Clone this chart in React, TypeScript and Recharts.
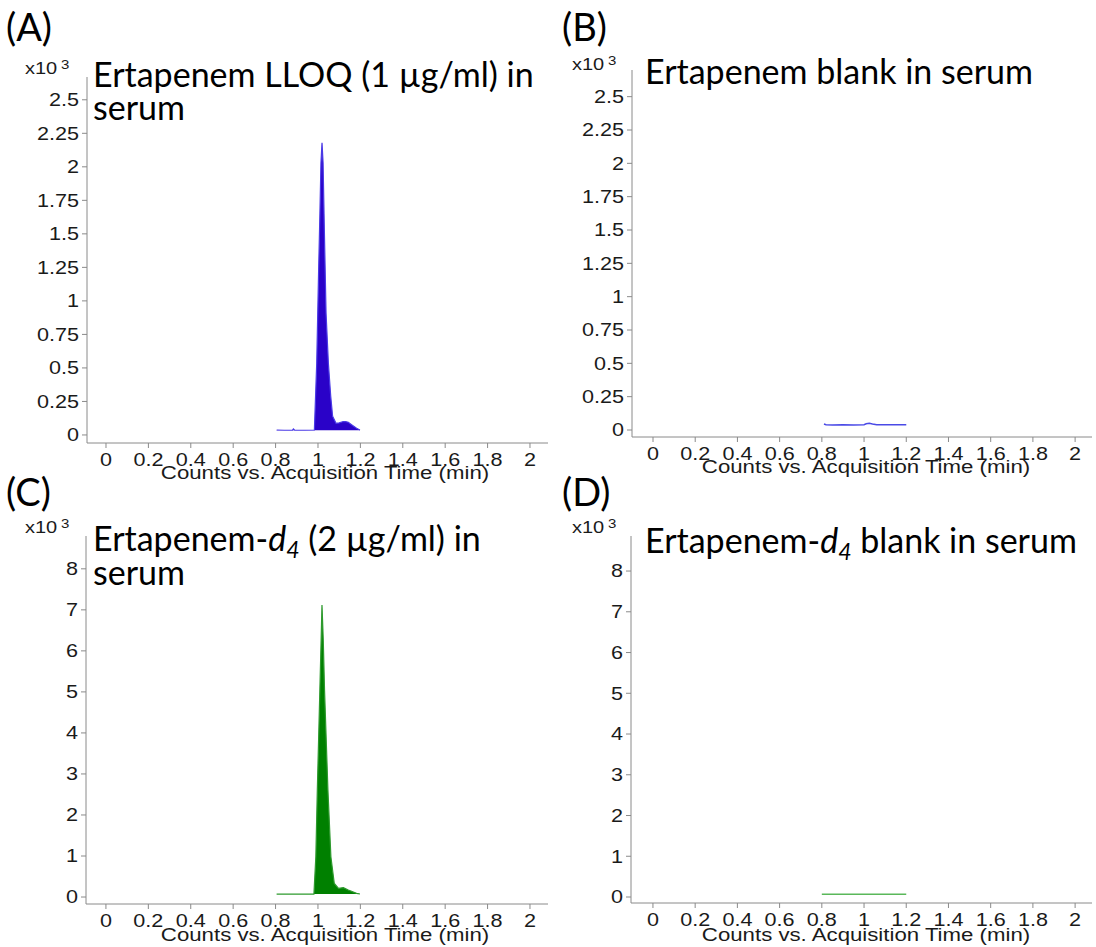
import React from 'react';
import { ComposedChart, Area, Line, XAxis, YAxis } from 'recharts';

// ---------- data (counts in units of x10^3, time in min) ----------
const timeA = [0.805, 0.84, 0.88, 0.884, 0.89, 0.94, 0.983, 0.994, 1.003, 1.009, 1.014, 1.019, 1.024, 1.03, 1.038, 1.049, 1.06, 1.069, 1.085, 1.1, 1.119, 1.13, 1.143, 1.16, 1.182, 1.198];
const countsA = [0.037, 0.035, 0.036, 0.045, 0.036, 0.035, 0.037, 0.535, 1.23, 1.65, 2.03, 2.18, 2.03, 1.53, 0.91, 0.535, 0.29, 0.14, 0.087, 0.09, 0.1, 0.1, 0.095, 0.075, 0.05, 0.037];

const timeB = [0.81, 0.82, 0.85, 0.9, 0.95, 1.0, 1.01, 1.025, 1.04, 1.06, 1.1, 1.15, 1.2];
const countsB = [0.045, 0.04, 0.038, 0.039, 0.038, 0.04, 0.047, 0.05, 0.045, 0.04, 0.039, 0.039, 0.039];

const timeC = [0.805, 0.85, 0.9, 0.95, 0.981, 0.99, 0.997, 1.009, 1.015, 1.019, 1.025, 1.031, 1.047, 1.061, 1.077, 1.097, 1.12, 1.143, 1.182, 1.198];
const countsC = [0.073, 0.073, 0.073, 0.073, 0.073, 0.98, 2.61, 5.05, 6.27, 7.12, 6.27, 5.05, 2.61, 0.98, 0.33, 0.21, 0.23, 0.17, 0.09, 0.073];

const timeD = [0.8, 0.9, 1.0, 1.1, 1.2];
const countsD = [0.07, 0.07, 0.07, 0.07, 0.07];

const xTicks = [0, 0.2, 0.4, 0.6, 0.8, 1, 1.2, 1.4, 1.6, 1.8, 2];
const yTicksTop = [0, 0.25, 0.5, 0.75, 1, 1.25, 1.5, 1.75, 2, 2.25, 2.5];
const yTicksBottom = [0, 1, 2, 3, 4, 5, 6, 7, 8];

const xTitle = 'Counts vs. Acquisition Time (min)';

const zip = (t: number[], v: number[]) => t.map((x, i) => ({ t: x, v: v[i] }));

const ARIAL = '"Liberation Sans", Arial, sans-serif';
const TITLE_FONT = 'Lato, "Open Sans", sans-serif';
const STRETCH = 1.2;

function StretchTick(props: any) {
  const { x, y, payload, axis } = props;
  const isX = axis === 'x';
  return (
    <g transform={`translate(${x},${y}) scale(${STRETCH},1)`}>
      <text
        x={0}
        y={0}
        dy={isX ? '0.71em' : '0.355em'}
        textAnchor={isX ? 'middle' : 'end'}
        fontFamily={ARIAL}
        fontSize={18}
        fill="#1a1a1a"
      >
        {String(payload.value)}
      </text>
    </g>
  );
}

type PanelProps = {
  box: [number, number, number, number];
  plot: [number, number, number, number];
  xDomain: [number, number];
  yDomain: [number, number];
  yTicks: number[];
  data: { t: number; v: number }[];
  kind: 'area' | 'line';
  stroke: string;
  fill?: string;
  base?: number;
  strokeWidth?: number;
};

const Y_W = 60;
const X_H = 40;

function Panel(p: PanelProps) {
  const [bx, by, bw, bh] = p.box;
  const [pl, pt, pr, pb] = p.plot;
  const margin = {
    left: pl - bx - Y_W,
    top: pt - by,
    right: bx + bw - pr,
    bottom: by + bh - pb - X_H,
  };
  return (
    <div style={{ position: 'absolute', left: bx, top: by, width: bw, height: bh }}>
      <ComposedChart width={bw} height={bh} data={p.data} margin={margin}>
        <XAxis
          dataKey="t"
          type="number"
          domain={p.xDomain}
          allowDataOverflow
          ticks={xTicks}
          interval={0}
          height={X_H}
          tickSize={5}
          tickMargin={5}
          stroke="#8a8a8a"
          tick={(tp: any) => <StretchTick {...tp} axis="x" />}
        />
        <YAxis
          type="number"
          domain={p.yDomain}
          allowDataOverflow
          ticks={p.yTicks}
          interval={0}
          width={Y_W}
          tickSize={5}
          tickMargin={3}
          stroke="#8a8a8a"
          tick={(tp: any) => <StretchTick {...tp} axis="y" />}
        />
        {p.kind === 'area' ? (
          <Area
            dataKey="v"
            type="linear"
            baseValue={p.base}
            stroke={p.stroke}
            strokeWidth={p.strokeWidth ?? 1.2}
            fill={p.fill}
            fillOpacity={1}
            dot={false}
            activeDot={false}
            isAnimationActive={false}
          />
        ) : (
          <Line
            dataKey="v"
            type="linear"
            stroke={p.stroke}
            strokeWidth={p.strokeWidth ?? 1.5}
            dot={false}
            activeDot={false}
            isAnimationActive={false}
          />
        )}
      </ComposedChart>
    </div>
  );
}

function Tag({ x, y, tag }: { x: number; y: number; tag: string }) {
  return (
    <text x={x} y={y} fontFamily={TITLE_FONT} fontSize={38} fill="#000">
      {tag}
    </text>
  );
}

function Mult({ x, y }: { x: number; y: number }) {
  return (
    <g transform={`translate(${x},${y}) scale(1.25,1)`}>
      <text x={0} y={0} fontFamily={ARIAL} fontSize={16} fill="#1a1a1a">
        x10
        <tspan dx={3} dy={-5} fontSize={12}>3</tspan>
      </text>
    </g>
  );
}

function AxisTitle({ cx, y }: { cx: number; y: number }) {
  return (
    <g transform={`translate(${cx},${y}) scale(1.17,1)`}>
      <text x={0} y={0} textAnchor="middle" fontFamily={ARIAL} fontSize={19} fill="#1a1a1a">
        {xTitle}
      </text>
    </g>
  );
}

export default function App() {
  return (
    <div style={{ position: 'absolute', left: 0, top: 0, width: 1096, height: 947, background: '#fff', overflow: 'hidden' }}>
      <Panel
        box={[0, 0, 560, 490]}
        plot={[87, 77, 548, 443]}
        xDomain={[-0.0896, 2.085]}
        yDomain={[-0.06, 2.67]}
        yTicks={yTicksTop}
        data={zip(timeA, countsA)}
        kind="area"
        base={0.036}
        stroke="#4a3ae6"
        fill="#2a02c8"
      />
      <Panel
        box={[560, 0, 536, 490]}
        plot={[632, 70, 1092, 437]}
        xDomain={[-0.0995, 2.08]}
        yDomain={[-0.0525, 2.7]}
        yTicks={yTicksTop}
        data={zip(timeB, countsB)}
        kind="line"
        stroke="#4a4ae6"
      />
      <Panel
        box={[0, 490, 560, 457]}
        plot={[86, 536, 548, 904]}
        xDomain={[-0.094, 2.085]}
        yDomain={[-0.17, 8.8]}
        yTicks={yTicksBottom}
        data={zip(timeC, countsC)}
        kind="area"
        base={0.073}
        stroke="#2e9a2e"
        fill="#008000"
      />
      <Panel
        box={[560, 490, 536, 457]}
        plot={[631, 536, 1092, 903]}
        xDomain={[-0.104, 2.08]}
        yDomain={[-0.147, 8.86]}
        yTicks={yTicksBottom}
        data={zip(timeD, countsD)}
        kind="line"
        stroke="#5ab85a"
      />
      <svg
        width={1096}
        height={947}
        style={{ position: 'absolute', left: 0, top: 0, pointerEvents: 'none' }}
      >
        <Tag x={6} y={41} tag="(A)" />
        <Tag x={562} y={41} tag="(B)" />
        <Tag x={6} y={506} tag="(C)" />
        <Tag x={562} y={506} tag="(D)" />

        <Mult x={25} y={74} />
        <Mult x={572} y={70} />
        <Mult x={25} y={533} />
        <Mult x={572} y={533} />

        <text fontFamily={TITLE_FONT} fontSize={34} fill="#000">
          <tspan x={93} y={87}>Ertapenem LLOQ (1 µg/ml) in</tspan>
          <tspan x={93} y={120}>serum</tspan>
        </text>
        <text x={645} y={84} fontFamily={TITLE_FONT} fontSize={34} fill="#000">
          Ertapenem blank in serum
        </text>
        <text fontFamily={TITLE_FONT} fontSize={34} fill="#000">
          <tspan x={93} y={551}>Ertapenem-</tspan>
          <tspan fontStyle="italic">d</tspan>
          <tspan fontStyle="italic" fontSize={23} dy={7}>4</tspan>
          <tspan dy={-7}> (2 µg/ml) in</tspan>
          <tspan x={93} y={585}>serum</tspan>
        </text>
        <text x={645} y={553} fontFamily={TITLE_FONT} fontSize={34} fill="#000">
          Ertapenem-
          <tspan fontStyle="italic">d</tspan>
          <tspan fontStyle="italic" fontSize={23} dy={7}>4</tspan>
          <tspan dy={-7}> blank in serum</tspan>
        </text>

        <AxisTitle cx={325} y={479} />
        <AxisTitle cx={866} y={473} />
        <AxisTitle cx={325} y={941} />
        <AxisTitle cx={866} y={941} />
      </svg>
    </div>
  );
}
